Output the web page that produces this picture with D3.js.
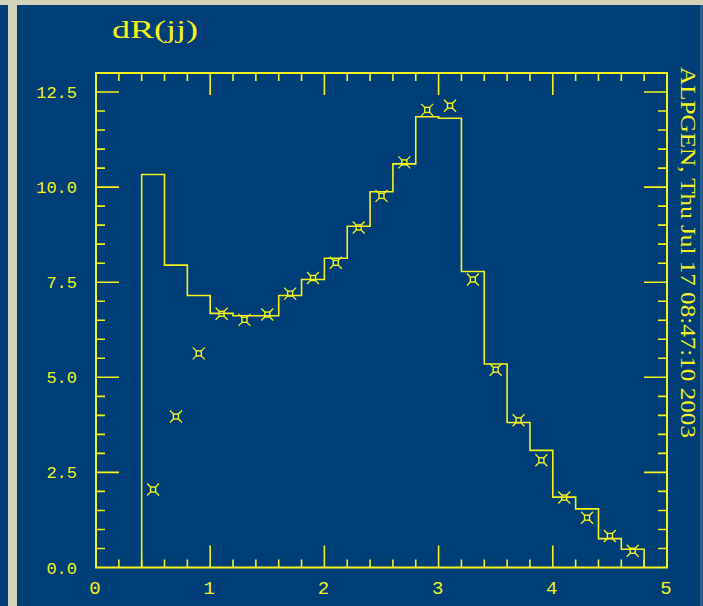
<!DOCTYPE html>
<html>
<head>
<meta charset="utf-8">
<script src="https://cdn.jsdelivr.net/npm/d3@7"></script>
<style>
  html, body { margin: 0; padding: 0; background: #d6d3bb; }
  svg { display: block; }
</style>
</head>
<body>
<svg id="chart" width="703" height="606"></svg>
<script>
// histogram bins (lower edges, width 0.2) and contents
const binEdges = [0.4, 0.6, 0.8, 1.0, 1.2, 1.4, 1.6, 1.8, 2.0, 2.2, 2.4, 2.6,
  2.8, 3.0, 3.2, 3.4, 3.6, 3.8, 4.0, 4.2, 4.4, 4.6, 4.8];
const histValues = [10.33, 7.95, 7.15, 6.68, 6.62, 6.62, 7.15, 7.57, 8.13, 8.97, 9.88,
  10.61, 11.85, 11.81, 7.78, 5.35, 3.81, 3.08, 1.85, 1.54, 0.76, 0.48];

// data points at bin centres
const pointX = [0.5, 0.7, 0.9, 1.1, 1.3, 1.5, 1.7, 1.9, 2.1, 2.3, 2.5, 2.7,
  2.9, 3.1, 3.3, 3.5, 3.7, 3.9, 4.1, 4.3, 4.5, 4.7];
const pointY = [2.05, 3.97, 5.63, 6.67, 6.51, 6.65, 7.20, 7.61, 8.01, 8.94, 9.77, 10.65,
  12.03, 12.14, 7.57, 5.20, 3.87, 2.82, 1.84, 1.31, 0.83, 0.44];

const xTickLabels = ["0", "1", "2", "3", "4", "5"];
const yTickLabels = ["0.0", "2.5", "5.0", "7.5", "10.0", "12.5"];

const title = "dR(jj)";
const sideText = "ALPGEN, Thu Jul 17 08:47:10 2003";

const blue = "#003e78";
const yellow = "#f4f41c";

const svg = d3.select("#chart");

// background panels: beige top strip, blue sliver on the left, beige bar, blue plot area
svg.append("rect").attr("x", 0).attr("y", 5).attr("width", 8).attr("height", 601).attr("fill", blue);
svg.append("rect").attr("x", 17).attr("y", 5).attr("width", 683).attr("height", 601).attr("fill", blue);
svg.append("rect").attr("x", 700).attr("y", 5).attr("width", 3).attr("height", 601).attr("fill", "#2a5a8a");

const plotLeft = 96, plotRight = 667, plotTop = 73, plotBottom = 567.5;

const x = d3.scaleLinear().domain([0, 5]).range([plotLeft, plotRight]);
const y = d3.scaleLinear().domain([0, 13]).range([plotBottom, plotTop]);

const g = svg.append("g");

// frame
g.append("rect")
  .attr("x", plotLeft).attr("y", plotTop)
  .attr("width", plotRight - plotLeft).attr("height", plotBottom - plotTop)
  .attr("fill", "none").attr("stroke", yellow).attr("stroke-width", 2);

// ticks pointing inwards on all four sides
const xMinor = d3.range(0, 5.001, 0.2).filter(v => Math.abs(v - Math.round(v)) > 1e-6);
const xMajor = d3.range(1, 5);
const yMinor = d3.range(0, 13.001, 0.5).filter(v => Math.abs(v / 2.5 - Math.round(v / 2.5)) > 1e-6);
const yMajor = d3.range(2.5, 13, 2.5);

const tickPath = d3.path();
xMinor.forEach(v => {
  tickPath.moveTo(x(v), plotBottom); tickPath.lineTo(x(v), plotBottom - 8);
  tickPath.moveTo(x(v), plotTop); tickPath.lineTo(x(v), plotTop + 8);
});
xMajor.forEach(v => {
  tickPath.moveTo(x(v), plotBottom); tickPath.lineTo(x(v), plotBottom - 22);
  tickPath.moveTo(x(v), plotTop); tickPath.lineTo(x(v), plotTop + 22);
});
yMinor.forEach(v => {
  tickPath.moveTo(plotLeft, y(v)); tickPath.lineTo(plotLeft + 9, y(v));
  tickPath.moveTo(plotRight, y(v)); tickPath.lineTo(plotRight - 9, y(v));
});
yMajor.forEach(v => {
  tickPath.moveTo(plotLeft, y(v)); tickPath.lineTo(plotLeft + 23, y(v));
  tickPath.moveTo(plotRight, y(v)); tickPath.lineTo(plotRight - 23, y(v));
});
g.append("path").attr("d", tickPath.toString())
  .attr("fill", "none").attr("stroke", yellow).attr("stroke-width", 1.6);

// tick labels
g.selectAll(".xlab").data(xTickLabels).enter().append("text")
  .attr("class", "xlab")
  .attr("x", (d, i) => x(i) - 1)
  .attr("y", 594)
  .attr("text-anchor", "middle")
  .attr("font-family", "Liberation Mono, monospace")
  .attr("font-size", 19)
  .attr("fill", yellow)
  .text(d => d);

g.selectAll(".ylab").data(yTickLabels).enter().append("text")
  .attr("class", "ylab")
  .attr("x", 77)
  .attr("y", (d, i) => y(i * 2.5) + 6)
  .attr("text-anchor", "end")
  .attr("font-family", "Liberation Mono, monospace")
  .attr("font-size", 17)
  .attr("fill", yellow)
  .text(d => d);

// histogram as a step outline
const hist = d3.path();
hist.moveTo(x(binEdges[0]), y(0));
histValues.forEach((v, i) => {
  hist.lineTo(x(binEdges[i]), y(v));
  hist.lineTo(x(binEdges[i + 1]), y(v));
});
hist.lineTo(x(binEdges[binEdges.length - 1]), y(0));
g.append("path").attr("d", hist.toString())
  .attr("fill", "none").attr("stroke", yellow).attr("stroke-width", 1.6);

// data markers: small square with diagonal stubs
const marks = g.selectAll(".mark").data(pointX).enter().append("g")
  .attr("class", "mark")
  .attr("transform", (d, i) => `translate(${x(d)},${y(pointY[i])})`);
marks.append("rect")
  .attr("x", -2.5).attr("y", -2.5).attr("width", 5).attr("height", 5)
  .attr("fill", "none").attr("stroke", yellow).attr("stroke-width", 1.4);
marks.append("path")
  .attr("d", "M-2.5,-2.5L-6,-6M2.5,-2.5L6,-6M-2.5,2.5L-6,6M2.5,2.5L6,6")
  .attr("stroke", yellow).attr("stroke-width", 1.3);

// title
svg.append("text")
  .attr("x", 112).attr("y", 38)
  .attr("font-family", "Liberation Serif, serif")
  .attr("font-size", 25)
  .attr("textLength", 86)
  .attr("lengthAdjust", "spacingAndGlyphs")
  .attr("fill", yellow)
  .text(title);

// rotated side note
svg.append("text")
  .attr("transform", "translate(681,67) rotate(90)")
  .attr("font-family", "Liberation Serif, serif")
  .attr("font-size", 22)
  .attr("textLength", 371)
  .attr("lengthAdjust", "spacingAndGlyphs")
  .attr("fill", yellow)
  .text(sideText);
</script>
</body>
</html>
